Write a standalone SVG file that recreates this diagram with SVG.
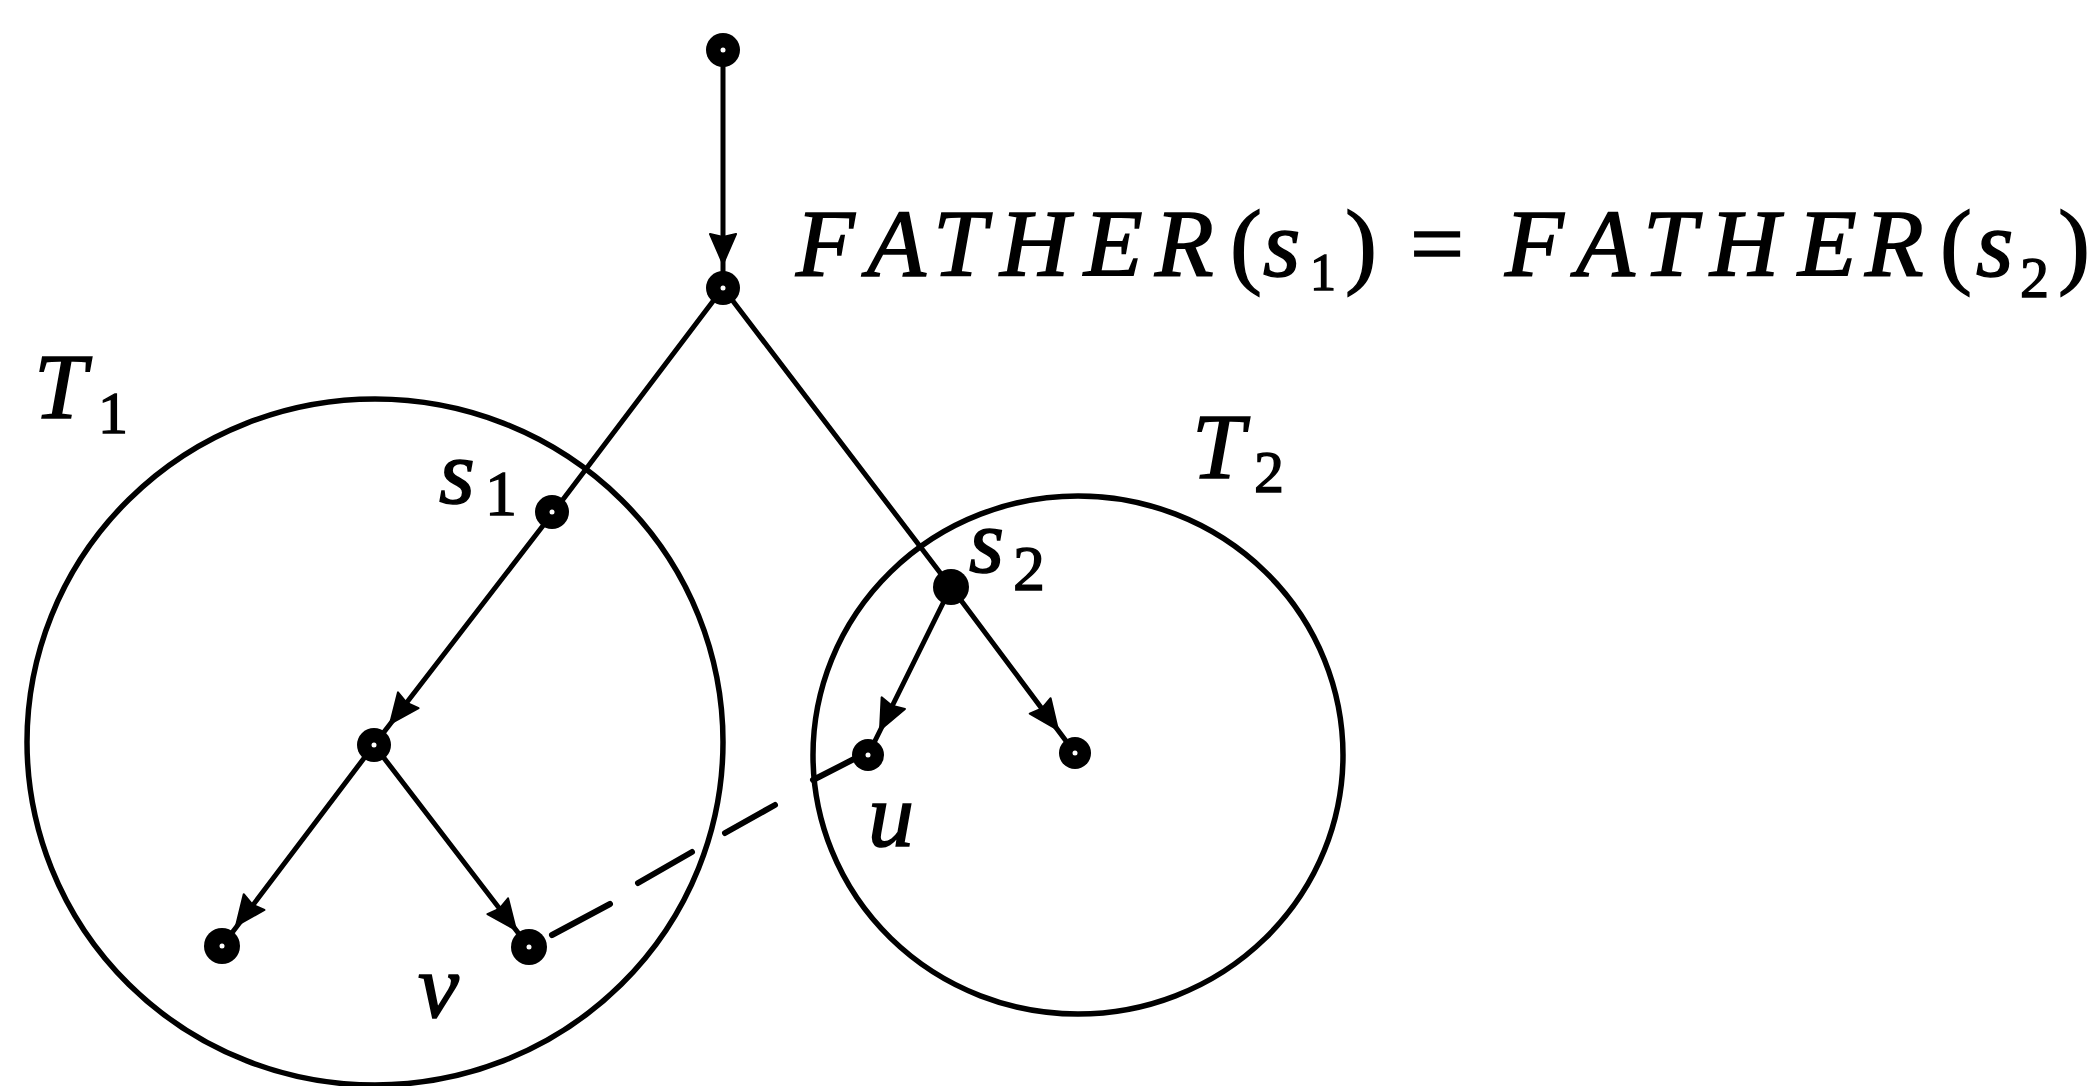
<svg xmlns="http://www.w3.org/2000/svg" width="2091" height="1086" viewBox="0 0 2091 1086">
<style>
.bg{fill:#fff}
.ring{fill:none;stroke:#000;stroke-width:5.5}
.edge{fill:none;stroke:#000;stroke-width:5;stroke-linecap:round}
.dash{fill:none;stroke:#000;stroke-width:6;stroke-linecap:round}
.dot{fill:#000}
.hole{fill:#fff}
.it{font-family:"Liberation Serif","Times New Roman",serif;font-style:italic;fill:#000;stroke:#000;stroke-width:1.6}
.rm{font-family:"Liberation Serif","Times New Roman",serif;font-style:normal;fill:#000;stroke:#000;stroke-width:1.4}
</style>
<defs>
<path id="ah" d="M0,0 L-30,-13 L-27,0 L-30,13 Z" fill="#000" stroke="#000" stroke-width="2" stroke-linejoin="round"/>
</defs>
<rect class="bg" x="0" y="0" width="2091" height="1086"/>

<g id="subtree-T1">
<ellipse class="ring" cx="375" cy="742" rx="348" ry="343"/>
<text class="it" x="34" y="418" font-size="94">T</text>
<text class="rm" x="98" y="433" font-size="60">1</text>
</g>
<g id="subtree-T2">
<ellipse class="ring" cx="1078" cy="755" rx="265" ry="259"/>
<text class="it" x="1192" y="478" font-size="94">T</text>
<text class="rm" x="1254" y="492" font-size="60">2</text>
</g>

<g id="connectors">
<line class="edge" x1="723" y1="50" x2="723" y2="288" stroke-width="6"/>
<line class="edge" x1="723" y1="288" x2="552" y2="514"/>
<line class="edge" x1="723" y1="288" x2="951" y2="587"/>
<line class="edge" x1="552" y1="514" x2="374" y2="745"/>
<line class="edge" x1="374" y1="745" x2="222" y2="946"/>
<line class="edge" x1="374" y1="745" x2="529" y2="947"/>
<line class="edge" x1="951" y1="587" x2="868" y2="755"/>
<line class="edge" x1="951" y1="587" x2="1075" y2="753"/>
<path class="dash" d="M552,935 L610,904 M638,883 L692,852 M725,833 L775,805 M813,780 L856,758"/>
<use href="#ah" transform="translate(723,264) rotate(90)"/>
<use href="#ah" transform="translate(390,724) rotate(127.6)"/>
<use href="#ah" transform="translate(236,926) rotate(127.1)"/>
<use href="#ah" transform="translate(516,930) rotate(52.5)"/>
<use href="#ah" transform="translate(880,730) rotate(116.3)"/>
<use href="#ah" transform="translate(1058,730) rotate(53.5)"/>
</g>

<g id="n-root"><circle class="dot" cx="723" cy="50" r="17"/><circle class="hole" cx="723" cy="50" r="2.5"/></g>
<g id="n-father">
<circle class="dot" cx="723" cy="288" r="17"/><circle class="hole" cx="723" cy="288" r="2.5"/>
<text y="276" font-size="96">
<tspan class="it" x="796">F</tspan><tspan class="it" x="867">A</tspan><tspan class="it" x="933">T</tspan><tspan class="it" x="1000">H</tspan><tspan class="it" x="1084">E</tspan><tspan class="it" x="1155">R</tspan><tspan class="rm" x="1230">(</tspan><tspan class="it" x="1263">s</tspan><tspan class="rm" x="1310" y="290" font-size="52">1</tspan><tspan class="rm" x="1345" y="276">)</tspan><tspan class="rm" x="1410">=</tspan><tspan class="it" x="1505">F</tspan><tspan class="it" x="1576">A</tspan><tspan class="it" x="1643">T</tspan><tspan class="it" x="1710">H</tspan><tspan class="it" x="1798">E</tspan><tspan class="it" x="1865">R</tspan><tspan class="rm" x="1940">(</tspan><tspan class="it" x="1976">s</tspan><tspan class="rm" x="2020" y="297" font-size="58">2</tspan><tspan class="rm" x="2058" y="276">)</tspan>
</text>
</g>
<g id="n-s1">
<circle class="dot" cx="552" cy="512" r="17"/><circle class="hole" cx="552" cy="512" r="2.5"/>
<text class="it" x="439" y="503" font-size="92">s</text>
<text class="rm" x="485" y="515" font-size="64">1</text>
</g>
<g id="n-mid"><circle class="dot" cx="374" cy="745" r="17"/><circle class="hole" cx="374" cy="745" r="2.5"/></g>
<g id="n-leaf1"><circle class="dot" cx="222" cy="946" r="18"/><circle class="hole" cx="222" cy="946" r="2.5"/></g>
<g id="n-v">
<circle class="dot" cx="529" cy="947" r="18"/><circle class="hole" cx="529" cy="947" r="2.5"/>
<text class="it" x="418" y="1017" font-size="92">v</text>
</g>
<g id="n-s2">
<circle class="dot" cx="951" cy="587" r="18"/>
<text class="it" x="969" y="572" font-size="90">s</text>
<text class="rm" x="1013" y="590" font-size="64">2</text>
</g>
<g id="n-u">
<circle class="dot" cx="868" cy="755" r="16"/><circle class="hole" cx="868" cy="755" r="2.5"/>
<text class="it" x="868" y="846" font-size="92">u</text>
</g>
<g id="n-leaf2"><circle class="dot" cx="1075" cy="753" r="16"/><circle class="hole" cx="1075" cy="753" r="2.5"/></g>
</svg>
